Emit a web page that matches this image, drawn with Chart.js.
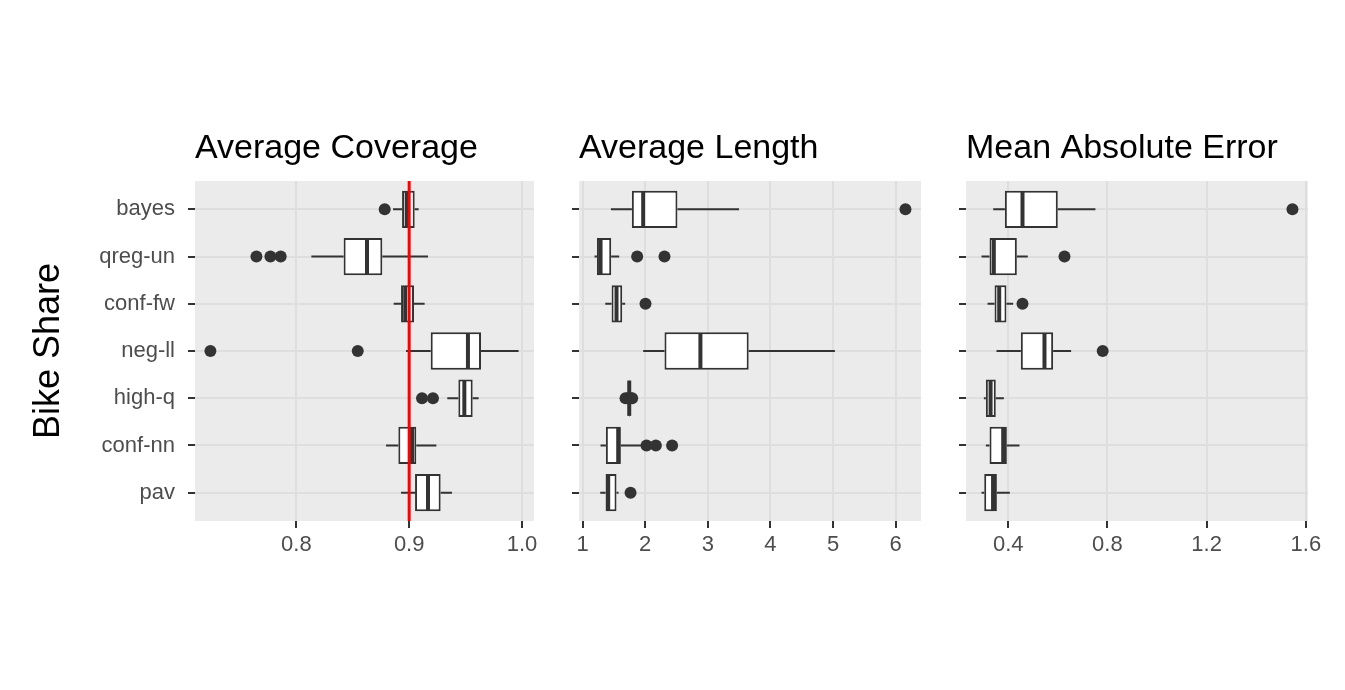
<!DOCTYPE html>
<html lang="en">
<head>
    <meta charset="UTF-8">
    <title>Bike Share - interval methods</title>
    <script src="https://cdn.jsdelivr.net/npm/chart.js"></script>
    <style>
        body {
            margin: 0;
            background: #ffffff;
        }
        #wrap {
            position: relative;
            width: 1345px;
            height: 690px;
        }
        #wrap canvas {
            position: absolute;
            left: 0;
            top: 0;
        }
    </style>
</head>
<body>
    <div id="wrap">
        <canvas id="coverage-chart" width="1345" height="690"></canvas>
        <canvas id="length-chart" width="1345" height="690"></canvas>
        <canvas id="mae-chart" width="1345" height="690"></canvas>
    </div>

    <script>
        // methods, top to bottom
        const methods = ["bayes", "qreg-un", "conf-fw", "neg-ll", "high-q", "conf-nn", "pav"];
        const panelTitles = ["Average Coverage", "Average Length", "Mean Absolute Error"];
        const rowTitle = "Bike Share";
        const targetCoverage = 0.9;

        // each row: [lower whisker, q1, median, q3, upper whisker]
        const coverageStats = [
            [0.8857, 0.8937, 0.8978, 0.9049, 0.9084],
            [0.8133, 0.8419, 0.8626, 0.8762, 0.9167],
            [0.8863, 0.8928, 0.8965, 0.9043, 0.9137],
            [0.8972, 0.9191, 0.9521, 0.9637, 0.9970],
            [0.9338, 0.9436, 0.9489, 0.9563, 0.9616],
            [0.8795, 0.8904, 0.9025, 0.9063, 0.9241],
            [0.8928, 0.9052, 0.9167, 0.9279, 0.9380]
        ];
        const coverageOutliers = [[0.8783], [0.7646, 0.7770, 0.7861], [], [0.7238, 0.8544], [0.9114, 0.9211], [], []];
        const coverageTicks = [0.8, 0.9, 1.0];
        const coverageTickLabels = ["0.8", "0.9", "1.0"];

        const lengthStats = [
            [1.452, 1.787, 1.968, 2.515, 3.499],
            [1.191, 1.229, 1.287, 1.457, 1.585],
            [1.362, 1.463, 1.542, 1.633, 1.680],
            [1.968, 2.308, 2.882, 3.653, 5.030],
            [1.735, 1.740, 1.745, 1.750, 1.755],
            [1.287, 1.372, 1.569, 1.611, 1.941],
            [1.282, 1.367, 1.409, 1.542, 1.574]
        ];
        const lengthOutliers = [[6.157], [1.872, 2.308], [2.005], [], [1.686, 1.720, 1.770, 1.792], [2.021, 2.170, 2.430], [1.766]];
        const lengthTicks = [1, 2, 3, 4, 5, 6];
        const lengthTickLabels = ["1", "2", "3", "4", "5", "6"];

        const maeStats = [
            [0.3396, 0.3866, 0.4577, 0.6000, 0.7517],
            [0.2926, 0.3248, 0.3420, 0.4349, 0.4790],
            [0.3168, 0.3450, 0.3638, 0.3930, 0.4200],
            [0.3530, 0.4510, 0.5463, 0.5812, 0.6537],
            [0.3020, 0.3100, 0.3290, 0.3500, 0.3826],
            [0.3100, 0.3248, 0.3799, 0.3946, 0.4456],
            [0.2926, 0.3034, 0.3390, 0.3544, 0.4067]
        ];
        const maeOutliers = [[1.546], [0.627], [0.4577], [0.781], [], [], []];
        const maeTicks = [0.4, 0.8, 1.2, 1.6];
        const maeTickLabels = ["0.4", "0.8", "1.2", "1.6"];

        const FONT = "'Liberation Sans', Arial, sans-serif";
        const INK = "#333333";
        const W = 1345, H = 690;

        // panel background, whiskers, medians, reference line, panel title
        const boxplotPlugin = {
            id: "boxplot",
            beforeDraw(chart) {
                const a = chart.chartArea;
                const ctx = chart.ctx;
                ctx.save();
                ctx.fillStyle = "#ebebeb";
                ctx.fillRect(a.left, a.top, a.right - a.left, a.bottom - a.top);
                ctx.restore();
            },
            beforeDatasetsDraw(chart, args, opts) {
                const ctx = chart.ctx;
                const xs = chart.scales.x, ys = chart.scales.y;
                ctx.save();
                ctx.strokeStyle = INK;
                ctx.lineWidth = 2;
                opts.stats.forEach((s, i) => {
                    const y = ys.getPixelForValue(i);
                    ctx.beginPath();
                    ctx.moveTo(xs.getPixelForValue(s[0]), y);
                    ctx.lineTo(xs.getPixelForValue(s[1]), y);
                    ctx.moveTo(xs.getPixelForValue(s[3]), y);
                    ctx.lineTo(xs.getPixelForValue(s[4]), y);
                    ctx.stroke();
                });
                ctx.restore();
            },
            afterDatasetsDraw(chart, args, opts) {
                const ctx = chart.ctx;
                const xs = chart.scales.x;
                const bars = chart.getDatasetMeta(0).data;
                ctx.save();
                ctx.strokeStyle = INK;
                ctx.lineWidth = 4;
                opts.stats.forEach((s, i) => {
                    const el = bars[i];
                    const x = xs.getPixelForValue(s[2]);
                    ctx.beginPath();
                    ctx.moveTo(x, el.y - el.height / 2 + 1);
                    ctx.lineTo(x, el.y + el.height / 2 - 1);
                    ctx.stroke();
                });
                if (opts.refLine !== undefined) {
                    const a = chart.chartArea;
                    const x = xs.getPixelForValue(opts.refLine);
                    ctx.strokeStyle = "#ff0000";
                    ctx.lineWidth = 3;
                    ctx.beginPath();
                    ctx.moveTo(x, a.top);
                    ctx.lineTo(x, a.bottom);
                    ctx.stroke();
                }
                ctx.restore();
            },
            afterDraw(chart, args, opts) {
                const ctx = chart.ctx;
                ctx.save();
                ctx.fillStyle = "#000000";
                ctx.font = "34px " + FONT;
                ctx.textAlign = "left";
                ctx.textBaseline = "alphabetic";
                ctx.fillText(opts.title, chart.chartArea.left, chart.chartArea.top - 23);
                ctx.restore();
            }
        };

        function makePanel(canvasId, cfg) {
            // limits: data range plus 5% each side, like the original
            const all = [];
            cfg.stats.forEach(s => all.push(s[0], s[4]));
            cfg.outliers.forEach(o => all.push(...o));
            const lo = Math.min(...all), hi = Math.max(...all);
            const pad = (hi - lo) * 0.05;

            const points = [];
            cfg.outliers.forEach((o, i) => o.forEach(v => points.push({ x: v, y: i })));

            const grid = {
                color: "#dedede",
                lineWidth: 2,
                tickColor: INK,
                tickWidth: 2,
                tickLength: 7,
                offset: false
            };

            return new Chart(document.getElementById(canvasId), {
                type: "bar",
                data: {
                    datasets: [{
                        data: cfg.stats.map((s, i) => ({ x: [s[1], s[3]], y: i })),
                        backgroundColor: "#ffffff",
                        borderColor: INK,
                        borderWidth: 2,
                        borderSkipped: false,
                        barPercentage: 0.79,
                        categoryPercentage: 1
                    }, {
                        type: "scatter",
                        data: points,
                        pointRadius: 6,
                        pointBackgroundColor: INK,
                        pointBorderWidth: 0
                    }]
                },
                options: {
                    indexAxis: "y",
                    responsive: false,
                    animation: false,
                    events: [],
                    layout: {
                        padding: { left: cfg.padLeft, right: cfg.padRight, top: 181, bottom: 109 }
                    },
                    plugins: {
                        legend: { display: false },
                        tooltip: { enabled: false },
                        boxplot: { stats: cfg.stats, refLine: cfg.refLine, title: cfg.title }
                    },
                    scales: {
                        x: {
                            type: "linear",
                            min: lo - pad,
                            max: hi + pad,
                            beginAtZero: false,
                            afterBuildTicks: s => { s.ticks = cfg.ticks.map(v => ({ value: v })); },
                            ticks: {
                                callback: (v, i) => cfg.tickLabels[i],
                                color: "#4d4d4d",
                                font: { size: 22, family: FONT },
                                padding: 4,
                                maxRotation: 0,
                                autoSkip: false
                            },
                            grid: grid,
                            border: { display: false },
                            afterFit: s => { s.height = 60; }
                        },
                        y: {
                            type: "linear",
                            min: -0.6,
                            max: 6.6,
                            reverse: true,
                            offset: false,
                            afterBuildTicks: s => { s.ticks = methods.map((m, i) => ({ value: i })); },
                            ticks: {
                                display: cfg.showLabels,
                                callback: (v, i) => methods[i],
                                color: "#4d4d4d",
                                font: { size: 22, family: FONT },
                                padding: 13
                            },
                            grid: grid,
                            border: { display: false },
                            title: {
                                display: cfg.showLabels,
                                text: rowTitle,
                                color: "#000000",
                                font: { size: 36, family: FONT },
                                padding: 0
                            },
                            afterFit: s => { s.width = cfg.axisWidth; }
                        }
                    }
                },
                plugins: [boxplotPlugin]
            });
        }

        makePanel("coverage-chart", {
            title: panelTitles[0], stats: coverageStats, outliers: coverageOutliers,
            ticks: coverageTicks, tickLabels: coverageTickLabels, refLine: targetCoverage,
            showLabels: true, padLeft: 27, axisWidth: 168, padRight: W - 534
        });
        makePanel("length-chart", {
            title: panelTitles[1], stats: lengthStats, outliers: lengthOutliers,
            ticks: lengthTicks, tickLabels: lengthTickLabels,
            showLabels: false, padLeft: 559, axisWidth: 20, padRight: W - 921
        });
        makePanel("mae-chart", {
            title: panelTitles[2], stats: maeStats, outliers: maeOutliers,
            ticks: maeTicks, tickLabels: maeTickLabels,
            showLabels: false, padLeft: 946, axisWidth: 20, padRight: W - 1308
        });
    </script>
</body>
</html>
